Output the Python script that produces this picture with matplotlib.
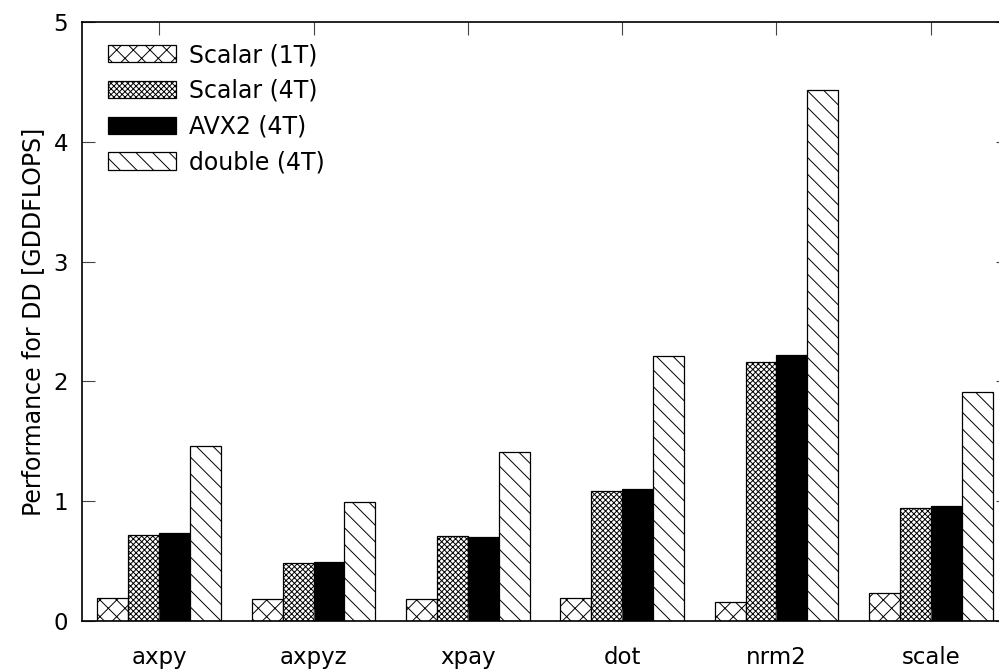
import matplotlib
matplotlib.use("Agg")
import matplotlib.pyplot as plt
import numpy as np

categories = ["axpy", "axpyz", "xpay", "dot", "nrm2", "scale"]
series_names = ["Scalar (1T)", "Scalar (4T)", "AVX2 (4T)", "double (4T)"]
scalar_1t = [0.19, 0.18, 0.185, 0.19, 0.16, 0.235]
scalar_4t = [0.72, 0.48, 0.71, 1.085, 2.165, 0.945]
avx2_4t = [0.735, 0.495, 0.70, 1.105, 2.22, 0.958]
double_4t = [1.46, 0.99, 1.41, 2.21, 4.43, 1.91]
yticks = [0, 1, 2, 3, 4, 5]

plt.rcParams['font.family'] = ['DejaVu Sans']
plt.rcParams['hatch.linewidth'] = 0.7
plt.rcParams['hatch.color'] = 'black'

W, H = 999, 670
fig = plt.figure(figsize=(W / 100, H / 100), dpi=100)
left, right, top, bottom = 82, 1008, 22, 621
ax = fig.add_axes([left / W, 1 - bottom / H, (right - left) / W, (bottom - top) / H])

x = np.arange(len(categories))
bw = 0.2
styles = [
    dict(facecolor='white', hatch='xx'),
    dict(facecolor='white', hatch='xxxxxx'),
    dict(facecolor='black', hatch=None),
    dict(facecolor='white', hatch='\\\\'),
]
data = [scalar_1t, scalar_4t, avx2_4t, double_4t]
for k, (vals, name, st) in enumerate(zip(data, series_names, styles)):
    ax.bar(x + (k - 1.5) * bw, vals, width=bw, label=name, edgecolor='black',
           linewidth=0.9, **st)

ax.set_xlim(-0.5, 5.5)
ax.set_ylim(0, 5)
ax.set_yticks(yticks)
ax.set_xticks(x)
ax.set_xticklabels(categories)
ax.tick_params(axis='both', direction='in', length=9, width=0.8, labelsize=16.5,
               top=True, right=True, color='#444444')
ax.tick_params(axis='x', pad=18)
ax.tick_params(axis='y', pad=10)
for s in ax.spines.values():
    s.set_linewidth(1.2)
ax.set_ylabel("Performance for DD [GDDFLOPS]", fontsize=17, labelpad=6)

ax.legend(loc='upper left', bbox_to_anchor=(26 / (right - left), 1 - 21 / (bottom - top)),
          frameon=False, fontsize=17, handlelength=2.88, handleheight=0.76,
          handletextpad=0.55, labelspacing=0.5, borderpad=0, borderaxespad=0)

fig.savefig("out.png", dpi=100)
